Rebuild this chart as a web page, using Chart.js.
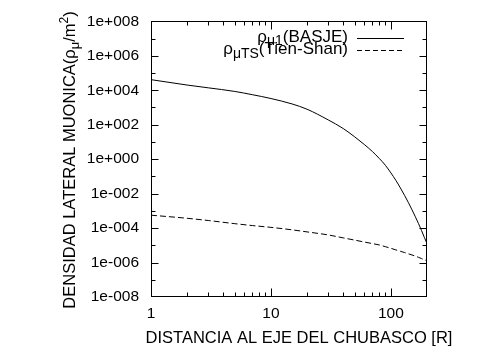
<!DOCTYPE html>
<html>
<head>
<meta charset="utf-8">
<script src="https://cdn.jsdelivr.net/npm/chart.js@4/dist/chart.umd.min.js"></script>
<style>
  html, body { margin: 0; padding: 0; background: #fff; }
  #wrap { width: 500px; height: 350px; position: relative; }
</style>
</head>
<body>
<div id="wrap"><canvas id="muon-chart"></canvas></div>
<script>
// distance to shower axis [R]
const distance = [1, 2, 3, 5, 7, 10, 15, 20, 30, 40, 50, 60, 70, 80, 90, 100, 110, 120, 130, 140,
  150, 160, 170, 180, 190, 200];
// lateral muon density, BASJE
const basje = [4.1e4, 2.0e4, 1.38e4, 8.5e3, 5.5e3, 3.3e3, 1.6e3, 790, 190, 60, 19.5, 7.1, 2.8, 1.1,
  0.44, 0.159, 0.059, 0.0214, 7.9e-3, 3.0e-3, 1.15e-3, 4.5e-4, 1.8e-4, 7.3e-5, 2.9e-5, 1.26e-5];
// lateral muon density, Tien-Shan
const tienShan = [5.6e-4, 3.7e-4, 2.75e-4, 1.8e-4, 1.4e-4, 1.1e-4, 7.9e-5, 6.0e-5, 4.0e-5, 2.7e-5,
  2.0e-5, 1.55e-5, 1.26e-5, 1.05e-5, 8.3e-6, 6.7e-6, 5.4e-6, 4.5e-6, 3.8e-6, 3.2e-6,
  2.75e-6, 2.35e-6, 2.0e-6, 1.7e-6, 1.45e-6, 1.26e-6];

const yTickValues = [1e-8, 1e-6, 1e-4, 1e-2, 1, 1e2, 1e4, 1e6, 1e8];
const xTickValues = [1, 10, 100];

const FONT = "'Liberation Sans', Arial, Helvetica, sans-serif";

const expLabel = (v) => {
  const e = Math.round(Math.log10(v));
  return "1e" + (e < 0 ? "-" : "+") + String(Math.abs(e)).padStart(3, "0");
};

// draws a run of text pieces, some of them lowered/raised (sub/superscripts)
const drawPieces = (ctx, pieces, x, y, align) => {
  let total = 0;
  pieces.forEach((p) => {
    ctx.font = p.size + "px " + FONT;
    p.w = ctx.measureText(p.t).width;
    total += p.w;
  });
  let cx = align === "right" ? x - total : align === "center" ? x - total / 2 : x;
  pieces.forEach((p) => {
    ctx.font = p.size + "px " + FONT;
    ctx.fillText(p.t, cx, y + (p.dy || 0));
    cx += p.w;
  });
};

// box, inward ticks on all sides, axis titles and the legend
const frame = {
  id: "frame",
  afterDraw(chart) {
    const { ctx, chartArea: a, scales } = chart;
    const x = scales.x, y = scales.y;
    ctx.save();
    ctx.strokeStyle = "#000";
    ctx.lineWidth = 1;
    const L = Math.round(a.left) + 0.5, R = Math.round(a.right) - 0.5;
    const T = Math.round(a.top) + 0.5, B = Math.round(a.bottom) - 0.5;
    ctx.strokeRect(L, T, R - L, B - T);

    ctx.beginPath();
    for (let e = -7; e <= 7; e++) {
      const py = Math.round(y.getPixelForValue(Math.pow(10, e))) + 0.5;
      const len = e % 2 === 0 ? 7 : 4;
      ctx.moveTo(L, py); ctx.lineTo(L + len, py);
      ctx.moveTo(R, py); ctx.lineTo(R - len, py);
    }
    [1, 10, 100].forEach((d) => {
      for (let m = 1; m <= 9; m++) {
        const v = m * d;
        if (v <= 1 || v >= 200) continue;
        const px = Math.round(x.getPixelForValue(v)) + 0.5;
        const len = m === 1 ? 8 : 4;
        ctx.moveTo(px, B); ctx.lineTo(px, B - len);
        ctx.moveTo(px, T); ctx.lineTo(px, T + len);
      }
    });
    ctx.stroke();

    ctx.fillStyle = "#000";
    ctx.textBaseline = "middle";

    // x title
    drawPieces(ctx, [{ t: "DISTANCIA AL EJE DEL CHUBASCO [R]", size: 16.5 }], 299, 338.5, "center");

    // y title
    ctx.save();
    ctx.translate(70.5, 160);
    ctx.rotate(-Math.PI / 2);
    drawPieces(ctx, [
      { t: "DENSIDAD LATERAL MUONICA(ρ", size: 16.5 },
      { t: "μ", size: 13, dy: 5 },
      { t: "/m", size: 16.5 },
      { t: "2", size: 12, dy: -6 },
      { t: ")", size: 16.5 },
    ], 0, 0, "center");
    ctx.restore();

    // legend
    drawPieces(ctx, [
      { t: "ρ", size: 17 },
      { t: "μ1", size: 14, dy: 4 },
      { t: "(BASJE)", size: 17 },
    ], 348, 37, "right");
    drawPieces(ctx, [
      { t: "ρ", size: 17 },
      { t: "μTS", size: 14, dy: 5 },
      { t: "(Tien-Shan)", size: 17 },
    ], 348, 49.5, "right");
    ctx.beginPath();
    ctx.moveTo(357, 38.5); ctx.lineTo(404, 38.5);
    ctx.stroke();
    ctx.setLineDash([5, 3]);
    ctx.beginPath();
    ctx.moveTo(357, 50.5); ctx.lineTo(404, 50.5);
    ctx.stroke();
    ctx.restore();
  },
};

const data = {
  datasets: [
    {
      label: "BASJE",
      data: distance.map((d, i) => ({ x: d, y: basje[i] })),
      borderColor: "#000",
      borderWidth: 1,
      pointRadius: 0,
      cubicInterpolationMode: "monotone",
    },
    {
      label: "Tien-Shan",
      data: distance.map((d, i) => ({ x: d, y: tienShan[i] })),
      borderColor: "#000",
      borderWidth: 1,
      borderDash: [6, 3],
      pointRadius: 0,
      cubicInterpolationMode: "monotone",
    },
  ],
};

const options = {
  responsive: true,
  maintainAspectRatio: false,
  animation: false,
  events: [],
  layout: { padding: { top: 21, right: 73, left: 0, bottom: 0 } },
  plugins: { legend: { display: false }, tooltip: { enabled: false } },
  scales: {
    x: {
      type: "logarithmic",
      min: 1,
      max: 200,
      grid: { display: false, drawTicks: false, tickLength: 0 },
      border: { display: false },
      afterBuildTicks: (s) => { s.ticks = xTickValues.map((v) => ({ value: v })); },
      afterFit: (s) => { s.height = 53; },
      ticks: {
        padding: 7,
        maxRotation: 0,
        autoSkip: false,
        color: "#000",
        font: { family: FONT, size: 15.5 },
        callback: (v) => String(v),
      },
    },
    y: {
      type: "logarithmic",
      min: 1e-8,
      max: 1e8,
      grid: { display: false, drawTicks: false, tickLength: 0 },
      border: { display: false },
      afterBuildTicks: (s) => { s.ticks = yTickValues.map((v) => ({ value: v })); },
      afterFit: (s) => { s.width = 151; },
      ticks: {
        padding: 12,
        autoSkip: false,
        color: "#000",
        font: { family: FONT, size: 15.5 },
        callback: (v) => expLabel(v),
      },
    },
  },
};

new Chart(document.getElementById("muon-chart"), {
  type: "line",
  data: data,
  options: options,
  plugins: [frame],
});
</script>
</body>
</html>
